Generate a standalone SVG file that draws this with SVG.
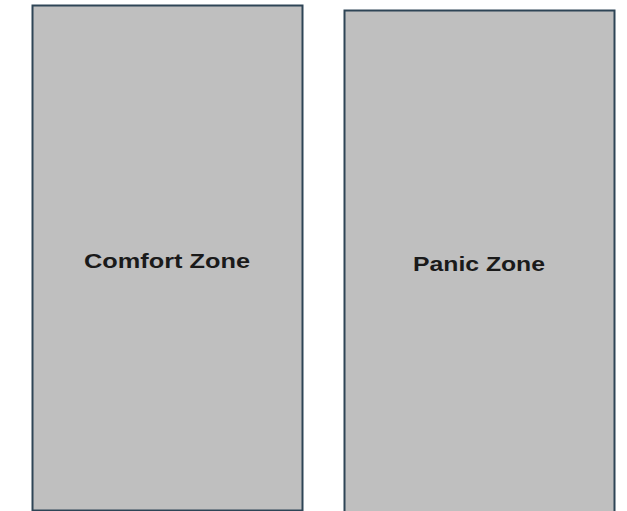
<svg xmlns="http://www.w3.org/2000/svg" width="627" height="511" viewBox="0 0 627 511">
<style>
.zone{fill:#bfbfbf;stroke:#2e4556;stroke-width:2}
.lbl{font-family:"Liberation Sans",Arial,sans-serif;font-weight:bold;font-size:21px;fill:#1a1a1a;text-anchor:middle}
</style>
<rect width="627" height="511" fill="#ffffff"/>
<g id="comfort-zone">
<rect class="zone" x="32.5" y="5.5" width="270" height="505"/>
<text class="lbl" x="167" y="268" textLength="166" lengthAdjust="spacingAndGlyphs">Comfort Zone</text>
</g>
<g id="panic-zone">
<rect class="zone" x="344.5" y="10.5" width="270" height="510"/>
<text class="lbl" x="479" y="271" textLength="132" lengthAdjust="spacingAndGlyphs">Panic Zone</text>
</g>
<g id="connectors"></g>
</svg>
